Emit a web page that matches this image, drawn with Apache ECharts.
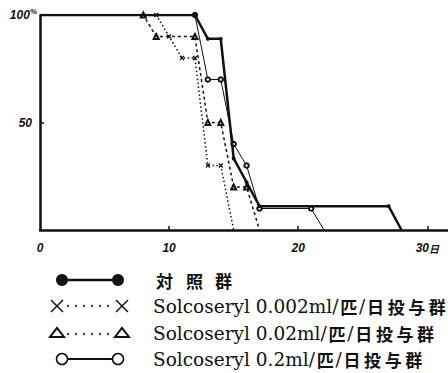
<!DOCTYPE html>
<html><head><meta charset="utf-8">
<script src="https://cdn.jsdelivr.net/npm/echarts@6/dist/echarts.min.js"></script>
<style>html,body{margin:0;padding:0;background:#fff}#c{width:448px;height:373px}</style>
</head><body><div id="c"></div>
<script>
// ---- data ----
const seriesNames = ['対照群', 'Solcoseryl 0.002ml/匹/日投与群', 'Solcoseryl 0.02ml/匹/日投与群', 'Solcoseryl 0.2ml/匹/日投与群'];
const controlDays = [0, 12, 13, 14, 15, 16, 17, 27, 28];
const controlPct  = [100, 100, 88.9, 88.9, 33.3, 22.2, 11.1, 11.1, 0];
const lowDays = [0, 9, 10, 11, 12, 13, 14, 15];
const lowPct  = [100, 100, 90, 80, 80, 30, 30, 0];
const midDays = [0, 8, 9, 12, 13, 14, 15, 16, 17];
const midPct  = [100, 100, 90, 90, 50, 50, 20, 20, 0];
const highDays = [0, 12, 13, 14, 15, 16, 17, 21, 22];
const highPct  = [100, 100, 70, 70, 40, 30, 10, 10, 0];
const xLabelValues = [0, 10, 20, 30];
const xTickValues = [10, 20, 30];
const yTickValues = [50, 100];

function build(days, vals) {
  return days.map((d, i) => {
    const item = { value: [d, vals[i]] };
    if (i === 0 || (i === days.length - 1 && vals[i] === 0)) item.symbol = 'none';
    return item;
  });
}

const K = '#111';
const crossPath = 'path://M0,0L10,10M10,0L0,10';

const chart = echarts.init(document.getElementById('c'), null, { renderer: 'svg' });

// legend drawn as graphics
const rows = [280, 306, 333, 359];
const g = [];
g.push({ type: 'circle', shape: { cx: 62, cy: rows[0], r: 6 }, style: { fill: K } });
g.push({ type: 'line', shape: { x1: 68, y1: rows[0], x2: 112, y2: rows[0] }, style: { stroke: K, lineWidth: 2.5 } });
g.push({ type: 'circle', shape: { cx: 118, cy: rows[0], r: 6 }, style: { fill: K } });
[57, 122].forEach(cx => {
  g.push({ type: 'line', shape: { x1: cx - 6, y1: rows[1] - 6, x2: cx + 6, y2: rows[1] + 6 }, style: { stroke: K, lineWidth: 1.5 } });
  g.push({ type: 'line', shape: { x1: cx - 6, y1: rows[1] + 6, x2: cx + 6, y2: rows[1] - 6 }, style: { stroke: K, lineWidth: 1.5 } });
});
[57, 122].forEach(cx => {
  g.push({ type: 'polygon', shape: { points: [[cx - 7, rows[2] + 4], [cx + 7, rows[2] + 4], [cx, rows[2] - 5]] }, style: { fill: 'none', stroke: K, lineWidth: 2 } });
});
[1, 2].forEach(r => {
  for (let i = 0; i < 6; i++) g.push({ type: 'circle', shape: { cx: 68 + i * 8, cy: rows[r] + (r === 2 ? 1 : 0), r: 1 }, style: { fill: K } });
});
g.push({ type: 'circle', shape: { cx: 62, cy: rows[3], r: 5.5 }, style: { fill: '#fff', stroke: K, lineWidth: 1.5 } });
g.push({ type: 'line', shape: { x1: 67.5, y1: rows[3], x2: 112.5, y2: rows[3] }, style: { stroke: K, lineWidth: 2 } });
g.push({ type: 'circle', shape: { cx: 118, cy: rows[3], r: 5.5 }, style: { fill: '#fff', stroke: K, lineWidth: 1.5 } });
const ctrlChars = Array.from(seriesNames[0]);
[156, 186, 215].forEach((x, i) => {
  g.push({ type: 'text', x: x, y: rows[0], style: { text: ctrlChars[i], fill: K, font: 'bold 17px "Noto Sans CJK JP"', verticalAlign: 'middle' } });
});
const lat = { fontFamily: 'DejaVu Serif', fontSize: 18.5, fill: K };
const cjk = { fontFamily: 'Noto Sans CJK JP', fontSize: 17, fontWeight: 'bold', fill: K, padding: [0, 1.8, 0, 1.8] };
function richName(name) {
  let out = '', buf = '';
  for (const ch of Array.from(name)) {
    if (/[\u3000-\u9fff]/.test(ch)) {
      if (buf) { out += '{l|' + buf + '}'; buf = ''; }
      out += '{c|' + ch + '}';
    } else buf += ch;
  }
  if (buf) out += '{l|' + buf + '}';
  return out;
}
[1, 2, 3].forEach(i => {
  g.push({ type: 'text', x: 153, y: rows[i], style: {
    text: richName(seriesNames[i]), rich: { l: lat, c: cjk }, verticalAlign: 'middle', fill: K } });
});

const axisFont = { color: K, fontSize: 12, fontWeight: 'bold', fontStyle: 'italic', fontFamily: 'Liberation Sans' };

chart.setOption({
  backgroundColor: '#fff',
  animation: false,
  grid: { left: 40, right: 0, top: 15, bottom: 143 },
  xAxis: {
    type: 'value', min: 0, max: 31.6,
    axisLine: { lineStyle: { color: K, width: 2.5 } },
    axisTick: { show: true, inside: true, length: 4, customValues: xTickValues, lineStyle: { color: K, width: 1.5 } },
    axisLabel: Object.assign({ customValues: xLabelValues, margin: 12,
      formatter: v => v === 30 ? '30{u|日}' : String(v),
      rich: { u: { fontSize: 10, fontWeight: 'bold', fontStyle: 'italic', color: K, fontFamily: 'Noto Sans CJK JP' } } }, axisFont),
    splitLine: { show: false }
  },
  yAxis: {
    type: 'value', min: 0, max: 100,
    axisLine: { show: true, lineStyle: { color: K, width: 2.5 } },
    axisTick: { show: true, inside: true, length: 4, customValues: yTickValues, lineStyle: { color: K, width: 1.5 } },
    axisLabel: Object.assign({ customValues: yTickValues, margin: 3,
      formatter: v => v === 100 ? '{n|100}{p|%}' : '{m|' + v + '}',
      rich: {
        n: { fontSize: 12, fontWeight: 'bold', fontStyle: 'italic', color: K, fontFamily: 'Liberation Sans' },
        m: { fontSize: 12, fontWeight: 'bold', fontStyle: 'italic', color: K, fontFamily: 'Liberation Sans', padding: [0, 5, 0, 0] },
        p: { fontSize: 8, fontWeight: 'bold', color: K, fontFamily: 'Liberation Sans', verticalAlign: 'top', padding: [0, 0, 8, 0] }
      } }, axisFont),
    splitLine: { show: false }
  },
  series: [
    { name: seriesNames[0], type: 'line', data: build(controlDays, controlPct), z: 5,
      symbol: 'circle', symbolSize: 4, showAllSymbol: true,
      lineStyle: { color: K, width: 2.5 }, itemStyle: { color: K } },
    { name: seriesNames[1], type: 'line', data: build(lowDays, lowPct), z: 3,
      symbol: crossPath, symbolSize: 4, showAllSymbol: true,
      lineStyle: { color: K, width: 1.5, type: [1.5, 2.5] }, itemStyle: { color: K, borderColor: K, borderWidth: 1.2 } },
    { name: seriesNames[2], type: 'line', data: build(midDays, midPct), z: 3,
      symbol: 'emptyTriangle', symbolSize: 5, showAllSymbol: true,
      lineStyle: { color: K, width: 1.5, type: [3, 3] }, itemStyle: { color: K, borderColor: K, borderWidth: 1.2 } },
    { name: seriesNames[3], type: 'line', data: build(highDays, highPct), z: 4,
      symbol: 'emptyCircle', symbolSize: 4.5, showAllSymbol: true,
      lineStyle: { color: K, width: 1 }, itemStyle: { color: K, borderColor: K, borderWidth: 1 } }
  ],
  graphic: g
});
</script></body></html>
